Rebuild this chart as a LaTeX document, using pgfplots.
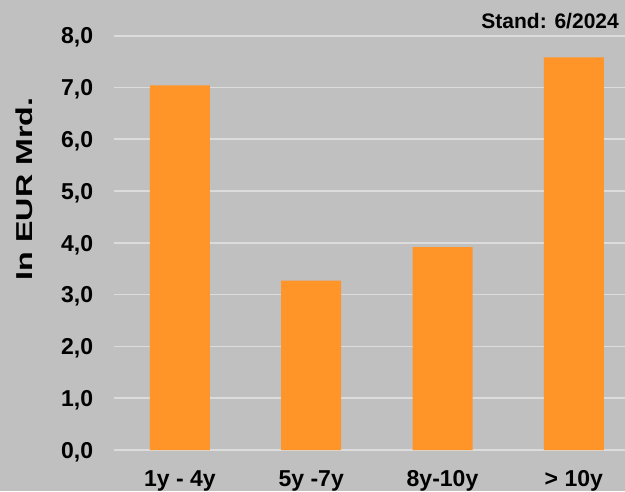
\documentclass[border=0pt]{standalone}
\usepackage{fontspec}
\setmainfont{Liberation Sans}
\usepackage{pgfplots}
\pgfplotsset{compat=1.18}
\definecolor{bg}{HTML}{C0C0C0}
\definecolor{gridc}{HTML}{DCDCDC}
\definecolor{barc}{HTML}{FF9428}
\begin{document}
\begin{tikzpicture}
\path[use as bounding box, fill=bg] (0,0) rectangle (625pt,491pt);
\begin{axis}[
  at={(114.3pt,41pt)}, anchor=south west,
  scale only axis, width=510.7pt, height=450pt,
  xmin=-0.5, xmax=3.39, ymin=0, ymax=8.69,
  axis line style={draw=none},
  tick style={draw=none},
  ymajorgrids, grid style={gridc, line width=1.6pt},
  ytick={0,1,2,3,4,5,6,7,8},
  yticklabels={0,0,1,0,2,0,3,0,4,0,5,0,6,0,7,0,8,0},
  yticklabels={{0,0},{1,0},{2,0},{3,0},{4,0},{5,0},{6,0},{7,0},{8,0}},
  yticklabel style={font=\fontsize{23}{27}\selectfont\bfseries, anchor=base east, inner sep=0pt, xshift=-21pt, yshift=-8.2pt},
  xtick={0,1,2,3},
  xticklabels={1y - 4y, 5y -7y, 8y-10y, > 10y},
  xticklabel style={font=\fontsize{23}{27}\selectfont\bfseries, anchor=base, inner sep=0pt, yshift=-36.7pt},
  clip=false,
]
\addplot[ybar, bar width=60pt, fill=barc, draw=none] coordinates {(0,7.04) (1,3.27) (2,3.92) (3,7.58)};
\end{axis}
\node[anchor=base east, inner sep=0pt, font=\fontsize{21}{25}\selectfont\bfseries] at (619pt,462.7pt) {Stand: 6/2024};
\node[anchor=base, inner sep=0pt, rotate=90, font=\fontsize{23}{27}\selectfont\bfseries] at (32.7pt,302pt) {\scalebox{1.4}[1.0]{In EUR Mrd.}};
\end{tikzpicture}
\end{document}
